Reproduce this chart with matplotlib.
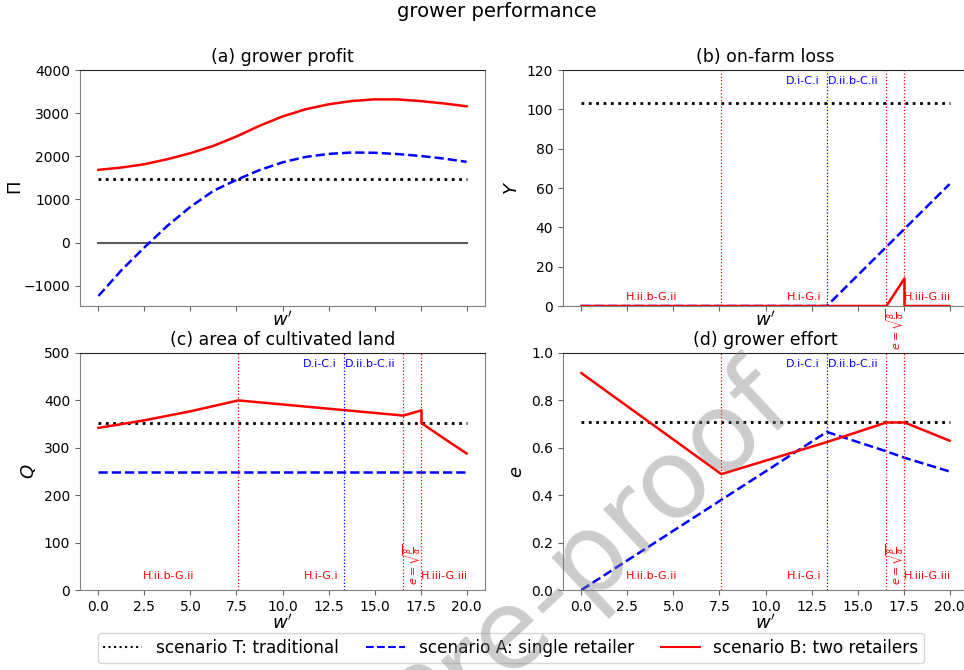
import numpy as np
import matplotlib.pyplot as plt
from matplotlib.lines import Line2D

# wholesale price grid points
w_a = [0, 1.25, 2.5, 3.75, 5, 6.25, 7.5, 8.75, 10, 11.25, 12.5, 13.75, 15, 16.25, 17.5, 18.75, 20]
profit_T = 1470
profit_A = [-1237, -640, -110, 390, 830, 1200, 1455, 1680, 1860, 1985, 2055, 2088, 2082, 2052, 2008, 1948, 1872]
profit_B = [1686, 1740, 1817, 1933, 2073, 2243, 2459, 2707, 2923, 3090, 3205, 3280, 3320, 3318, 3280, 3225, 3160]

# region boundaries
w_red = [7.6, 16.57, 17.55]
w_blue = 13.33

loss_T = 103
w_loss_A = [0, 13.33, 20]
loss_A = [0, 0, 62]
w_loss_B = [0, 16.57, 17.55, 17.55, 20]
loss_B = [0, 0, 14, 0, 0]

area_T = 352
area_A = 250
w_area_B = [0, 2.5, 5, 7.6, 16.57, 17.55, 17.55, 18.8, 20]
area_B = [342, 358, 377, 400, 368, 379, 352, 319, 288]

effort_T = 0.707
w_eff_A = [0, 13.33, 16.57, 17.55, 20]
effort_A = [0, 0.667, 0.585, 0.558, 0.5]
w_eff_B = [0, 7.6, 13.33, 16.57, 17.55, 20]
effort_B = [0.915, 0.489, 0.624, 0.707, 0.707, 0.63]

fig = plt.figure(figsize=(9.64, 6.7), dpi=100)
W, H = 964, 670

def make_ax(left, top, width, height):
    return fig.add_axes([left / W, (H - top - height) / H, width / W, height / H])

ax1 = make_ax(80, 70, 405, 236)
ax2 = make_ax(563, 70, 405, 236)
ax3 = make_ax(80, 353, 405, 237)
ax4 = make_ax(563, 353, 405, 237)

lw = 1.8
def draw_T(ax, val):
    ax.plot([0, 20], [val, val], ':', color='black', lw=2)

# (a) grower profit
draw_T(ax1, profit_T)
ax1.plot([0, 20], [0, 0], '-', color='0.35', lw=1.5)
ax1.plot(w_a, profit_A, '--', color='blue', lw=lw)
ax1.plot(w_a, profit_B, '-', color='red', lw=lw)
ax1.set_ylim(-1469, 4000)
ax1.set_ylabel(r'$\Pi$', fontsize=13, labelpad=-1)
ax1.set_title('(a) grower profit', fontsize=12.5)

# (b) on-farm loss
draw_T(ax2, loss_T)
ax2.plot(w_loss_A, loss_A, '--', color='blue', lw=lw)
ax2.plot(w_loss_B, loss_B, '-', color='red', lw=lw)
ax2.set_ylim(0, 120)
ax2.set_ylabel(r'$Y$', fontsize=13)
ax2.set_title('(b) on-farm loss', fontsize=12.5)

# (c) area of cultivated land
draw_T(ax3, area_T)
ax3.plot([0, 20], [area_A, area_A], '--', color='blue', lw=lw)
ax3.plot(w_area_B, area_B, '-', color='red', lw=lw)
ax3.set_ylim(0, 500)
ax3.set_ylabel(r'$Q$', fontsize=13)
ax3.set_title('(c) area of cultivated land', fontsize=12.5)

# (d) grower effort
draw_T(ax4, effort_T)
ax4.plot(w_eff_A, effort_A, '--', color='blue', lw=lw)
ax4.plot(w_eff_B, effort_B, '-', color='red', lw=lw)
ax4.set_ylim(0, 1.0)
ax4.set_ylabel(r'$e$', fontsize=13)
ax4.set_title('(d) grower effort', fontsize=12.5)

sqrt_lbl = r'$e=\sqrt{\frac{\beta}{\alpha}}$'
for ax, ylab, yrot, va_rot in [(ax2, 0.015, -0.01, 'top'), (ax3, 0.04, 0.02, 'bottom'), (ax4, 0.04, 0.02, 'bottom')]:
    for x in w_red:
        ax.axvline(x, color='red', ls=':', lw=0.9)
    ax.axvline(w_blue, color='blue', ls=':', lw=0.9)
    tr = ax.get_xaxis_transform()
    ax.text((0 + w_red[0]) / 2, ylab, 'H.ii.b-G.ii', color='red', fontsize=8, ha='center', va='bottom', transform=tr)
    ax.text((w_red[0] + w_red[1]) / 2, ylab, 'H.i-G.i', color='red', fontsize=8, ha='center', va='bottom', transform=tr)
    ax.text((w_red[2] + 20) / 2, ylab, 'H.iii-G.iii', color='red', fontsize=8, ha='center', va='bottom', transform=tr)
    ax.text((w_red[1] + w_red[2]) / 2, yrot, sqrt_lbl, color='red', fontsize=8, rotation=90,
            ha='center', va=va_rot, transform=tr, clip_on=False)
    ax.text(w_blue - 0.4, 0.975, 'D.i-C.i', color='blue', fontsize=8, ha='right', va='top', transform=tr)
    ax.text(w_blue + 0.05, 0.975, 'D.ii.b-C.ii', color='blue', fontsize=8, ha='left', va='top', transform=tr)

for ax in [ax1, ax2, ax3, ax4]:
    ax.set_xlim(-1, 21)
    ax.set_xticks([0, 2.5, 5, 7.5, 10, 12.5, 15, 17.5, 20])
    ax.set_xlabel(r"$w'$", fontsize=13, labelpad=0)
    ax.tick_params(labelsize=10, color='0.4')
    for side in ['left', 'right', 'bottom']:
        ax.spines[side].set_color('0.5')
    ax.spines['top'].set_color('0.15')
for ax in [ax1, ax2]:
    ax.tick_params(labelbottom=False)

fig.suptitle('grower performance', x=497 / W, y=0.997, fontsize=14)

handles = [Line2D([], [], ls=':', color='black', lw=1.5),
           Line2D([], [], ls='--', color='blue', lw=1.5),
           Line2D([], [], ls='-', color='red', lw=1.5)]
labels = ['scenario T: traditional', 'scenario A: single retailer', 'scenario B: two retailers']
fig.legend(handles, labels, loc='lower center', ncol=3, bbox_to_anchor=(511 / W, -0.002),
           fontsize=12.2, columnspacing=1.6, handlelength=2.3, borderpad=0.35)

fig.text(0.830, 0.381, 'Journal Pre-proof', rotation=43, fontsize=80, color='0.5', alpha=0.4,
         ha='right', va='baseline', rotation_mode='anchor', zorder=10)

fig.savefig('out.png', dpi=100)
